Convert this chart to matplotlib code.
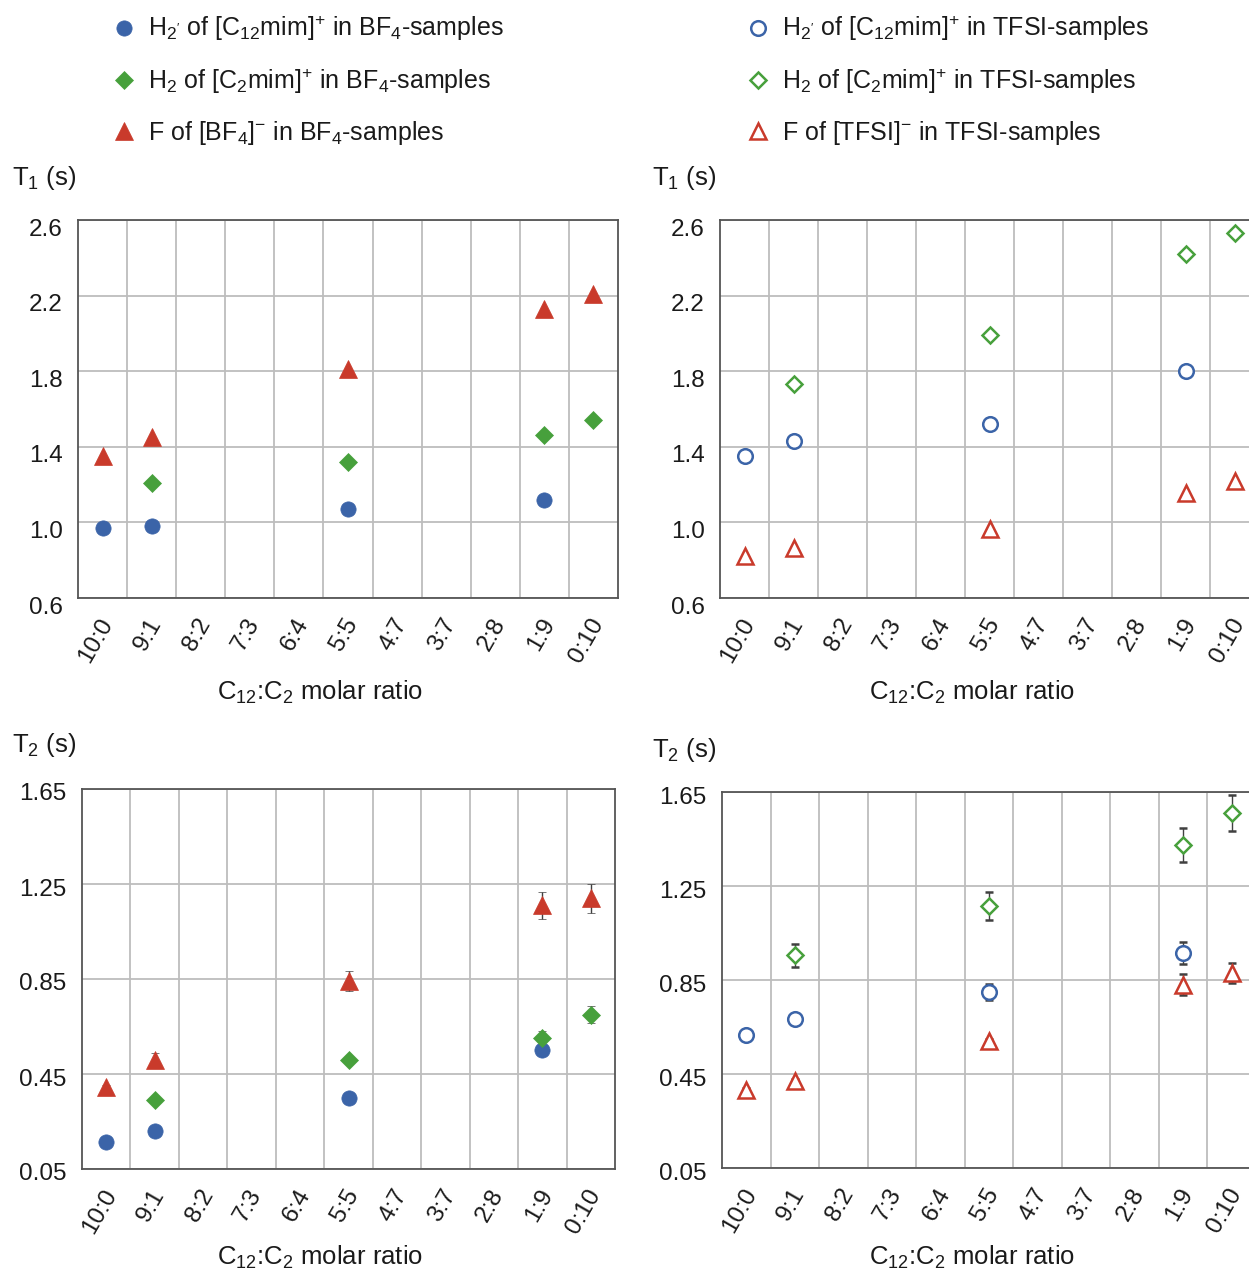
import numpy as np
import matplotlib
matplotlib.use("Agg")
import matplotlib.pyplot as plt
from matplotlib.transforms import ScaledTranslation

plt.rcParams["font.family"] = ["Liberation Sans", "DejaVu Sans"]
plt.rcParams["mathtext.fontset"] = "custom"
plt.rcParams["mathtext.rm"] = "Liberation Sans"
plt.rcParams["mathtext.it"] = "Liberation Sans:italic"
plt.rcParams["mathtext.bf"] = "Liberation Sans:bold"

RATIOS = ["10:0", "9:1", "8:2", "7:3", "6:4", "5:5", "4:7", "3:7", "2:8", "1:9", "0:10"]

# samples measured
X_C12 = ["10:0", "9:1", "5:5", "1:9"]
X_C2 = ["9:1", "5:5", "1:9", "0:10"]
X_ALL = ["10:0", "9:1", "5:5", "1:9", "0:10"]

# T1 (s)
t1_h2p_bf4 = [0.97, 0.98, 1.07, 1.12]
t1_h2_bf4 = [1.21, 1.32, 1.46, 1.54]
t1_f_bf4 = [1.35, 1.45, 1.81, 2.13, 2.21]
t1_h2p_tfsi = [1.35, 1.43, 1.52, 1.80]
t1_h2_tfsi = [1.73, 1.99, 2.42, 2.53]
t1_f_tfsi = [0.82, 0.865, 0.965, 1.155, 1.22]

# T2 (s) and errors
t2_h2p_bf4 = [0.165, 0.21, 0.35, 0.55]
t2_h2p_bf4_err = [0.01, 0.01, 0.01, 0.015]
t2_h2_bf4 = [0.34, 0.51, 0.60, 0.70]
t2_h2_bf4_err = [0.01, 0.01, 0.03, 0.035]
t2_f_bf4 = [0.395, 0.51, 0.84, 1.16, 1.19]
t2_f_bf4_err = [0.01, 0.03, 0.042, 0.057, 0.06]
t2_h2p_tfsi = [0.615, 0.685, 0.80, 0.965]
t2_h2p_tfsi_err = [0.01, 0.01, 0.035, 0.047]
t2_h2_tfsi = [0.955, 1.165, 1.425, 1.56]
t2_h2_tfsi_err = [0.048, 0.059, 0.072, 0.077]
t2_f_tfsi = [0.38, 0.42, 0.59, 0.83, 0.88]
t2_f_tfsi_err = [0.01, 0.01, 0.01, 0.044, 0.044]

BLUE = "#3b64a8"
GREEN = "#47a03c"
RED = "#c93a2b"

LBL = {
    "h2p_bf4": r"H$_{2'}$ of [C$_{12}$mim]$^{+}$ in BF$_{4}$-samples",
    "h2_bf4": r"H$_{2}$ of [C$_{2}$mim]$^{+}$ in BF$_{4}$-samples",
    "f_bf4": r"F of [BF$_{4}$]$^{-}$ in BF$_{4}$-samples",
    "h2p_tfsi": r"H$_{2'}$ of [C$_{12}$mim]$^{+}$ in TFSI-samples",
    "h2_tfsi": r"H$_{2}$ of [C$_{2}$mim]$^{+}$ in TFSI-samples",
    "f_tfsi": r"F of [TFSI]$^{-}$ in TFSI-samples",
}


def style(marker, color, filled):
    ms = {"o": 11, "D": 9, "^": 12.5}[marker]
    if filled:
        return dict(marker=marker, ms=ms, mfc=color, mec=color, mew=0.5)
    return dict(marker=marker, ms=ms - 0.5, mfc="white", mec=color, mew=1.8)


def draw(ax, series, yticks, fmt, ydrop):
    handles = []
    for xs, ys, err, st in series:
        pos = [RATIOS.index(r) for r in xs]
        if err is None:
            h, = ax.plot(pos, ys, ls="none", zorder=3, **st)
        else:
            h = ax.errorbar(pos, ys, yerr=err, ls="none", ecolor="#404040", elinewidth=1,
                            capsize=3, capthick=1, zorder=3, **st)
        handles.append(h)
    ax.set_xlim(-0.5, len(RATIOS) - 0.5)
    ax.set_ylim(yticks[0], yticks[-1])
    ax.set_yticks(yticks)
    ax.set_yticklabels([fmt % v for v in yticks])
    ax.set_xticks(range(len(RATIOS)))
    ax.set_xticklabels(RATIOS, rotation=60, ha="right", va="center", rotation_mode="anchor")
    ax.set_xticks(np.arange(0.5, len(RATIOS) - 1, 1), minor=True)
    ax.grid(which="minor", axis="x", color="#bdbdbd", lw=1.3)
    ax.grid(which="major", axis="y", color="#bdbdbd", lw=1.3)
    ax.set_axisbelow(True)
    ax.tick_params(which="both", length=0, labelsize=17.5, colors="#1a1a1a")
    ax.tick_params(axis="y", pad=11)
    ax.tick_params(axis="x", pad=16)
    for sp in ax.spines.values():
        sp.set_color("#555555")
        sp.set_linewidth(1.3)
    for lab in ax.get_yticklabels():
        lab.set_transform(lab.get_transform() + ScaledTranslation(0, -ydrop / 100, fig.dpi_scale_trans))
    for lab in ax.get_xticklabels():
        lab.set_transform(lab.get_transform() + ScaledTranslation(5 / 100, 0, fig.dpi_scale_trans))
    return handles


W, H = 1249, 1274
fig = plt.figure(figsize=(W / 100, H / 100), dpi=100)


def px_axes(left, top, width, height):
    return fig.add_axes([left / W, 1 - (top + height) / H, width / W, height / H])


ax_tl = px_axes(78, 220, 540, 378)
ax_tr = px_axes(720, 220, 539, 378)
ax_bl = px_axes(82, 789, 533, 380)
ax_br = px_axes(722, 792, 534, 376)

t1_ticks = [0.6, 1.0, 1.4, 1.8, 2.2, 2.6]
t2_ticks = [0.05, 0.45, 0.85, 1.25, 1.65]

h_bf4 = draw(ax_tl, [
    (X_C12, t1_h2p_bf4, None, style("o", BLUE, True)),
    (X_C2, t1_h2_bf4, None, style("D", GREEN, True)),
    (X_ALL, t1_f_bf4, None, style("^", RED, True)),
], t1_ticks, "%.1f", 7)
h_tfsi = draw(ax_tr, [
    (X_C12, t1_h2p_tfsi, None, style("o", BLUE, False)),
    (X_C2, t1_h2_tfsi, None, style("D", GREEN, False)),
    (X_ALL, t1_f_tfsi, None, style("^", RED, False)),
], t1_ticks, "%.1f", 7)
draw(ax_bl, [
    (X_C12, t2_h2p_bf4, t2_h2p_bf4_err, style("o", BLUE, True)),
    (X_C2, t2_h2_bf4, t2_h2_bf4_err, style("D", GREEN, True)),
    (X_ALL, t2_f_bf4, t2_f_bf4_err, style("^", RED, True)),
], t2_ticks, "%.2f", 3)
draw(ax_br, [
    (X_C12, t2_h2p_tfsi, t2_h2p_tfsi_err, style("o", BLUE, False)),
    (X_C2, t2_h2_tfsi, t2_h2_tfsi_err, style("D", GREEN, False)),
    (X_ALL, t2_f_tfsi, t2_f_tfsi_err, style("^", RED, False)),
], t2_ticks, "%.2f", 3)

# axis titles
for x, y, s in [(12, 178, r"T$_{1}$ (s)"), (652, 178, r"T$_{1}$ (s)"),
                (12, 745, r"T$_{2}$ (s)"), (652, 750, r"T$_{2}$ (s)")]:
    fig.text(x / W, 1 - y / H, s, fontsize=18.5, ha="left", va="center", color="#1a1a1a")
for x, y in [(320, 692), (972, 692), (320, 1257), (972, 1257)]:
    fig.text(x / W, 1 - y / H, r"C$_{12}$:C$_{2}$ molar ratio", fontsize=18.5,
             ha="center", va="center", color="#1a1a1a")

# legends
leg_kw = dict(loc="upper left", frameon=False, fontsize=18, handlelength=0.8,
              handletextpad=0.55, labelspacing=0.92, borderpad=0, borderaxespad=0,
              labelcolor="#1a1a1a")
fig.legend(h_bf4, [LBL["h2p_bf4"], LBL["h2_bf4"], LBL["f_bf4"]],
           bbox_to_anchor=(114 / W, 1 - 14 / H), **leg_kw)
fig.legend(h_tfsi, [LBL["h2p_tfsi"], LBL["h2_tfsi"], LBL["f_tfsi"]],
           bbox_to_anchor=(748 / W, 1 - 14 / H), **leg_kw)

fig.savefig("out.png", dpi=100)
